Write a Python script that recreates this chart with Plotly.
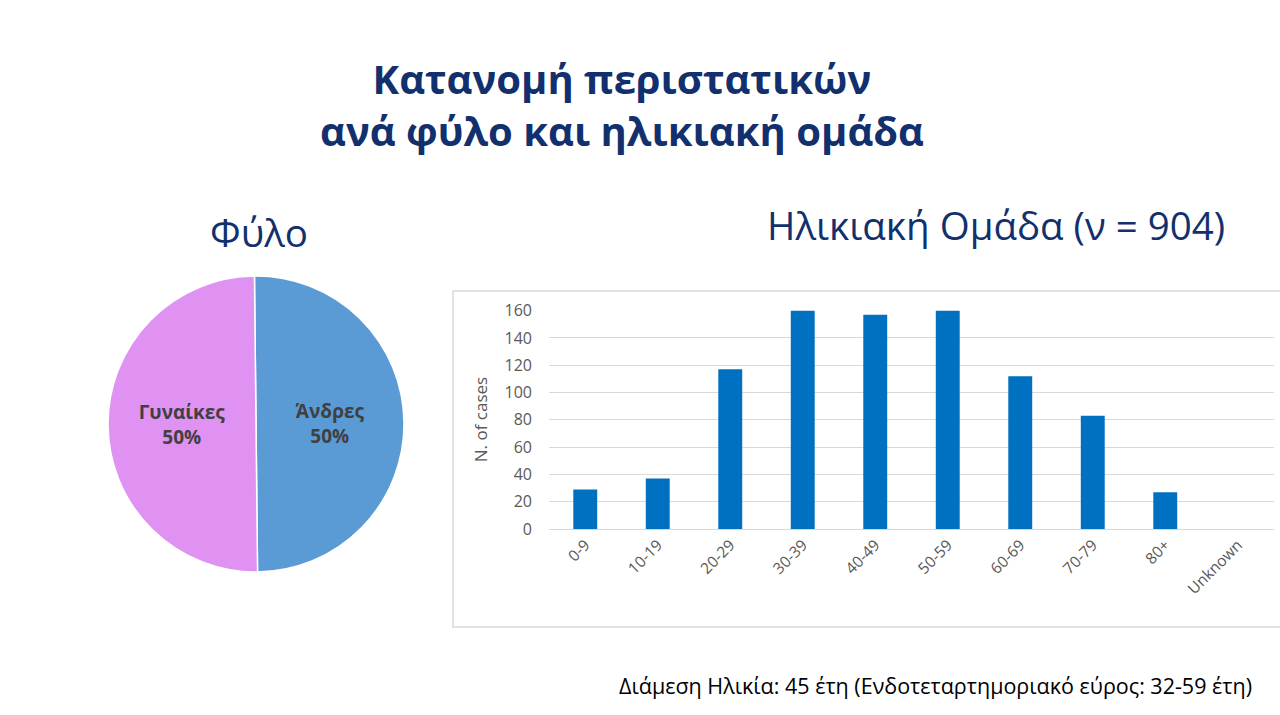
import plotly.graph_objects as go

# Data
sex_labels = ["Άνδρες", "Γυναίκες"]
sex_values = [50, 50]
sex_colors = ["#5B9BD5", "#DF92F2"]

age_groups = ["0-9", "10-19", "20-29", "30-39", "40-49", "50-59", "60-69", "70-79", "80+", "Unknown"]
age_cases = [29, 37, 117, 160, 157, 160, 112, 83, 27, 0]

W, H = 1280, 715
def px(x):
    return x / W
def py(y):
    return 1 - y / H

fig = go.Figure()

fig.add_trace(go.Pie(
    labels=sex_labels,
    values=sex_values,
    sort=False,
    direction="clockwise",
    rotation=-0.6,
    marker=dict(colors=sex_colors, line=dict(color="white", width=1.5)),
    textinfo="label+percent",
    textposition="inside",
    insidetextorientation="horizontal",
    textfont=dict(family="Open Sans", size=19, color="#404040", weight="bold"),
    domain=dict(x=[px(108), px(404)], y=[py(572), py(276)]),
    showlegend=False,
    hoverinfo="label+percent",
))

fig.add_trace(go.Bar(
    x=age_groups,
    y=age_cases,
    marker=dict(color="#0070C0"),
    width=0.33,
    showlegend=False,
))

fig.update_layout(
    template="none",
    width=W, height=H,
    margin=dict(l=0, r=0, t=0, b=0, pad=0, autoexpand=False),
    paper_bgcolor="white",
    plot_bgcolor="white",
    font=dict(family="Open Sans", color="#595959"),
    xaxis=dict(
        domain=[px(549), px(1274)],
        anchor="y",
        automargin=False,
        tickangle=-45,
        tickfont=dict(size=15.5, color="#595959"),
        showgrid=False,
        showline=True,
        linecolor="#D9D9D9",
        ticks="",
        zeroline=False,
    ),
    yaxis=dict(
        domain=[py(529), py(310)],
        anchor="x",
        automargin=False,
        range=[0, 160.5],
        tickvals=[0, 20, 40, 60, 80, 100, 120, 140, 160],
        tickfont=dict(size=16, color="#595959"),
        ticklabelstandoff=16,
        showgrid=True,
        gridcolor="#D9D9D9",
        showline=False,
        zeroline=False,
        ticks="",
        title=dict(text="N. of cases", font=dict(size=17, color="#595959"), standoff=12),
    ),
    shapes=[
        dict(type="rect", xref="paper", yref="paper",
             x0=px(453), x1=px(1282), y0=py(627), y1=py(291),
             line=dict(color="#D9D9D9", width=1.5), fillcolor="rgba(0,0,0,0)", layer="below"),
    ],
    annotations=[
        dict(text="<b>Κατανομή περιστατικών<br>ανά φύλο και ηλικιακή ομάδα</b>",
             x=px(622), y=py(104), xref="paper", yref="paper",
             xanchor="center", yanchor="middle", showarrow=False,
             font=dict(family="Open Sans", size=40, color="#12306E")),
        dict(text="Φύλο", x=px(259), y=py(232), xref="paper", yref="paper",
             xanchor="center", yanchor="middle", showarrow=False,
             font=dict(family="Open Sans", size=38.5, color="#12306E")),
        dict(text="Ηλικιακή Ομάδα (ν = 904)", x=px(996), y=py(225), xref="paper", yref="paper",
             xanchor="center", yanchor="middle", showarrow=False,
             font=dict(family="Open Sans", size=38.5, color="#12306E")),
        dict(text="Διάμεση Ηλικία: 45 έτη (Ενδοτεταρτημοριακό εύρος: 32-59 έτη)",
             x=px(1254), y=py(685), xref="paper", yref="paper",
             xanchor="right", yanchor="middle", showarrow=False,
             font=dict(family="Open Sans", size=21.5, color="#000000")),
    ],
)

fig.write_html("out.html")
